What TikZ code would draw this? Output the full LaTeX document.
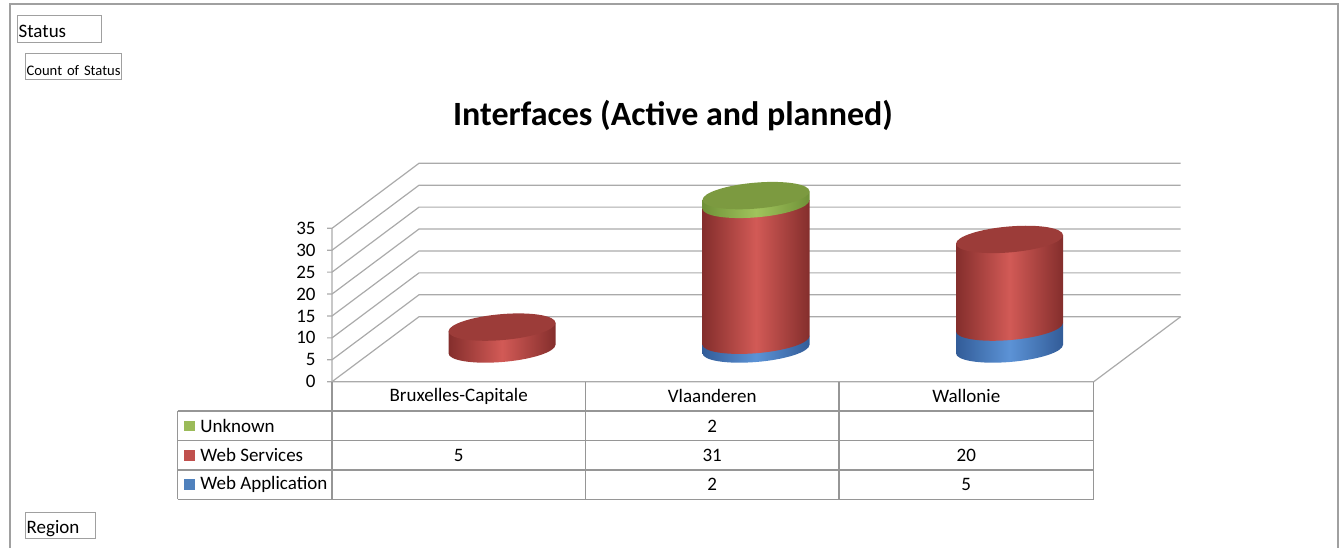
\documentclass[tikz,border=0pt]{standalone}
\usepackage{fontspec}
\setmainfont{Carlito}
\usetikzlibrary{positioning}

\definecolor{framegray}{RGB}{160,160,160}
\definecolor{gridgray}{RGB}{170,170,170}
\definecolor{tablegray}{RGB}{150,150,150}
\definecolor{redlight}{RGB}{210,90,86}
\definecolor{reddark}{RGB}{132,46,44}
\definecolor{redtop}{RGB}{156,60,57}
\definecolor{greenlight}{RGB}{160,196,92}
\definecolor{greendark}{RGB}{112,145,56}
\definecolor{greentop}{RGB}{124,154,64}
\definecolor{bluelight}{RGB}{92,147,214}
\definecolor{bluedark}{RGB}{50,92,152}
\definecolor{legendgreen}{RGB}{155,187,89}
\definecolor{legendred}{RGB}{192,80,77}
\definecolor{legendblue}{RGB}{79,129,189}

% one stacked slice of a cylinder: centre x, from, to, edge colour, middle colour
\newcommand{\cylpart}[5]{%
  \begin{scope}[shift={(#1,349)}, yslant=0.08]
    \shade[left color=#4, right color=#4, middle color=#5]
      (-53.5,{-4.383*#2}) -- (-53.5,{-4.383*#3}) -- (53.5,{-4.383*#3}) -- (53.5,{-4.383*#2})
      arc[start angle=0, end angle=180, x radius=53.5, y radius=13] -- cycle;
  \end{scope}}
% lid of a cylinder: centre x, value, colour
\newcommand{\cyltop}[3]{%
  \begin{scope}[shift={(#1,349)}, yslant=0.08]
    \fill[#3] (0,{-4.383*#2}) ellipse[x radius=53.5, y radius=13];
  \end{scope}}

\tikzset{
  gridline/.style={draw=gridgray, line width=0.6pt},
  tableline/.style={draw=tablegray, line width=0.6pt},
  fieldbtn/.style={draw=framegray, line width=0.6pt, inner xsep=0.5pt, inner ysep=0pt, align=left, anchor=north west, text depth=0pt},
  ticklabel/.style={anchor=east, inner sep=0pt},
  cell/.style={inner sep=0pt},
  legendsq/.style={minimum size=5.25pt, inner sep=0pt}
}

\begin{document}
\begin{tikzpicture}[x=0.5pt, y=-0.5pt, font=\fontsize{9.5}{11}\selectfont]
  \useasboundingbox (0,0) rectangle (1343,548);

  % Frame
  \draw[framegray, line width=0.9pt] (10,548) -- (10,4) -- (1338,4) -- (1338,548);

  % Field buttons
  \node[fieldbtn, text width=41pt, text height=8.5pt, minimum height=13.5pt] (status) at (17,15) {Status};
  \node[fieldbtn, text width=47pt, text height=9pt, minimum height=13pt, font=\fontsize{7.3}{9}\selectfont] (count) at (25,53) {\mbox{Count of Status}};
  \node[fieldbtn, text width=34pt, text height=8pt, minimum height=13pt] (region) at (25,512) {Region};

  % Title
  \node[font=\fontsize{17}{20}\bfseries\selectfont] (title) at (673,116) {Interfaces (Active and planned)};

  % Walls and grid
  \foreach \v in {0,5,...,35} {
    \pgfmathsetmacro\yy{381.7-\v*4.383}
    \pgfmathsetmacro\yb{316.7-\v*4.383}
    \draw[gridline] (327,\yy) -- (332,\yy) -- (419,\yb) -- (1180.7,\yb);
    \node[ticklabel] (tick\v) at (316,\yy) {\v};
  }
  \draw[gridline] (332,228.3) -- (332,381.7) -- (1093.7,381.7) -- (1180.7,316.7);

  % Cylinders
  \cylpart{502}{0}{5}{reddark}{redlight}
  \cyltop{502}{5}{redtop}

  \cylpart{756}{0}{2}{bluedark}{bluelight}
  \cylpart{756}{2}{33}{reddark}{redlight}
  \cylpart{756}{33}{35}{greendark}{greenlight}
  \cyltop{756}{35}{greentop}

  \cylpart{1009.5}{0}{5}{bluedark}{bluelight}
  \cylpart{1009.5}{5}{25}{reddark}{redlight}
  \cyltop{1009.5}{25}{redtop}

  % Data table
  \foreach \yy in {411,440.7,470,499.3}
    \draw[tableline] (177.7,\yy) -- (1093.7,\yy);
  \draw[tableline] (177.7,411) -- (177.7,499.3);
  \foreach \xx in {332,585.5,839,1093.7}
    \draw[tableline] (\xx,381.7) -- (\xx,499.3);

  \node[cell] (bru) at (458.7,396.3) {Bruxelles-Capitale};
  \node[cell] (vla) at (712.2,396.3) {Vlaanderen};
  \node[cell] (wal) at (966.3,396.3) {Wallonie};

  \node[legendsq, fill=legendgreen] (squnk) at (189.5,426) {};
  \node[cell, right=2.4pt of squnk] (unk) {Unknown};
  \node[legendsq, fill=legendred] (sqws) at (189.5,455.3) {};
  \node[cell, right=2.4pt of sqws] (ws) {Web Services};
  \node[legendsq, fill=legendblue] (sqwa) at (189.5,484.7) {};
  \node[cell, right=2.4pt of sqwa] (wa) {Web Application};

  \node[cell] (unkvla) at (712.2,426) {2};
  \node[cell] (wsbru) at (458.7,455.3) {5};
  \node[cell] (wsvla) at (712.2,455.3) {31};
  \node[cell] (wswal) at (966.3,455.3) {20};
  \node[cell] (wavla) at (712.2,484.7) {2};
  \node[cell] (wawal) at (966.3,484.7) {5};
\end{tikzpicture}
\end{document}
